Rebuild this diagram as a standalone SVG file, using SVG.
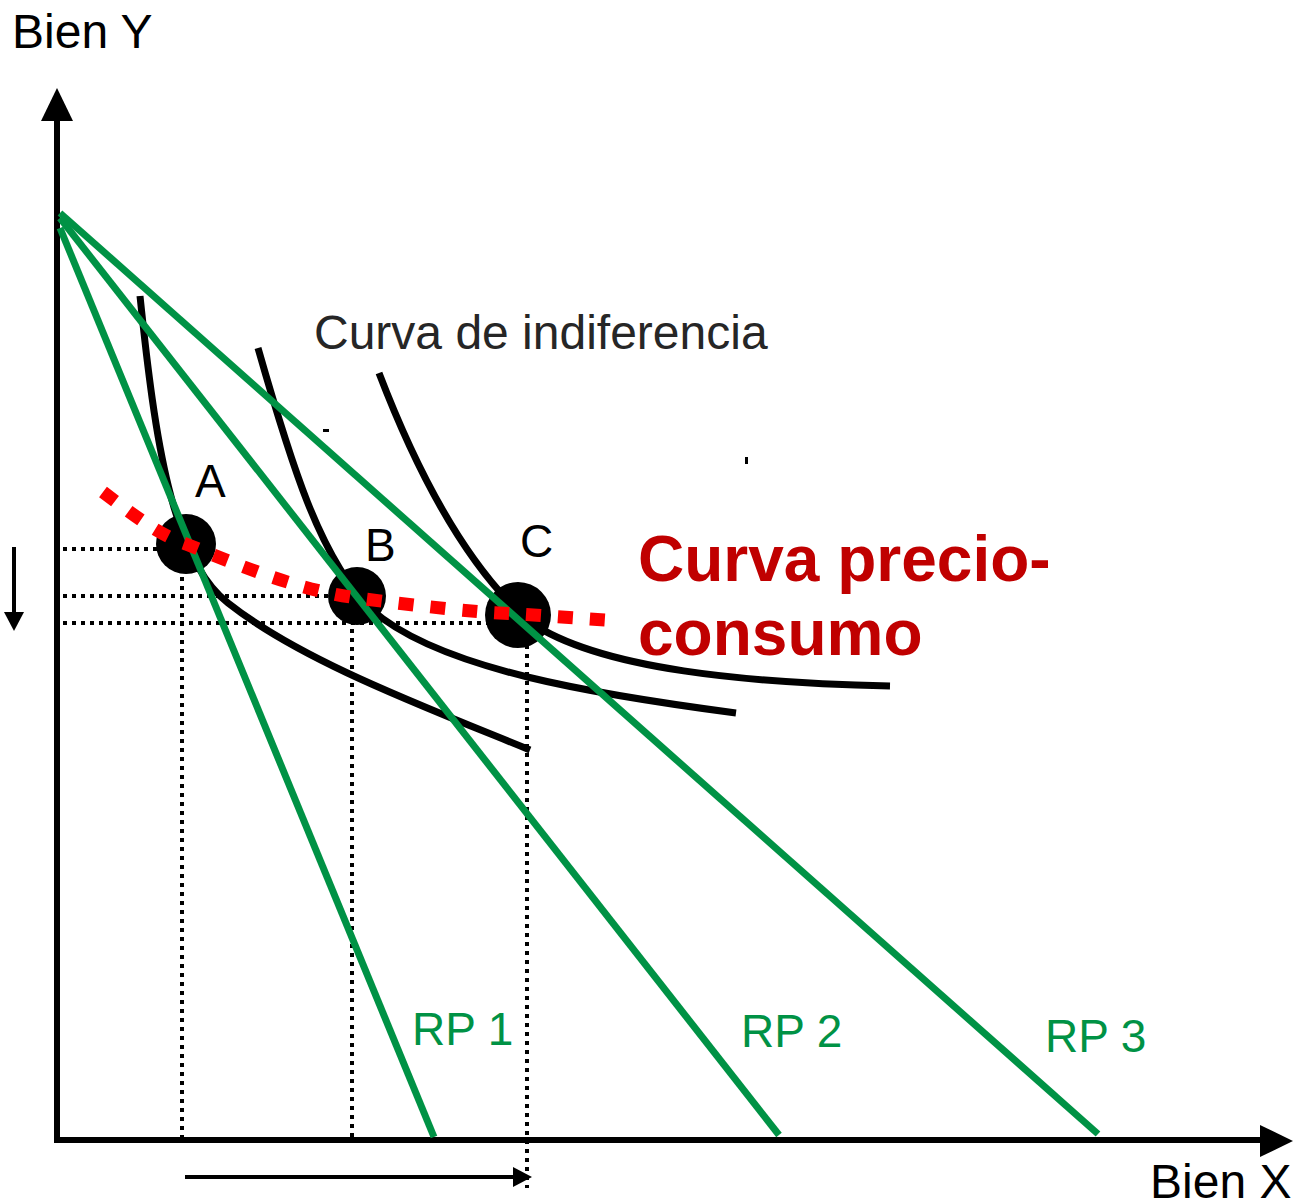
<svg xmlns="http://www.w3.org/2000/svg" width="1309" height="1202" viewBox="0 0 1309 1202">
<style>
.axis{stroke:#000;stroke-width:6;fill:none}
.dot{stroke:#000;stroke-width:4;stroke-dasharray:4 5;fill:none}
.ic{stroke:#000;stroke-width:7;fill:none;stroke-linecap:butt}
.rp{stroke:#009245;stroke-width:7;fill:none}
.pcc{stroke:#ff0000;stroke-width:13;stroke-dasharray:15 17;fill:none}
.lbl{font-family:"Liberation Sans",Arial,sans-serif;font-size:46px;fill:#000}
.ax{font-family:"Liberation Sans",Arial,sans-serif;font-size:48px;fill:#000}
.rpl{font-family:"Liberation Sans",Arial,sans-serif;font-size:46px;fill:#009245}
.big{font-family:"Liberation Sans",Arial,sans-serif;font-size:64px;font-weight:bold;fill:#c00000}
</style>
<rect width="1309" height="1202" fill="#fff"/>
<g id="axes">
<line class="axis" x1="57" y1="1142" x2="57" y2="115"/>
<polygon points="57,88 41,121 73,121" fill="#000"/>
<line class="axis" x1="54" y1="1140" x2="1265" y2="1140"/>
<polygon points="1293,1141 1260,1125 1260,1157" fill="#000"/>
<text class="ax" x="12" y="48">Bien Y</text>
<text class="ax" x="1150" y="1198">Bien X</text>
</g>
<g id="connectors">
<line class="dot" x1="63" y1="549" x2="160" y2="549"/>
<line class="dot" x1="63" y1="596" x2="355" y2="596"/>
<line class="dot" x1="63" y1="623" x2="520" y2="623"/>
<line class="dot" x1="182" y1="577" x2="182" y2="1138"/>
<line class="dot" x1="352" y1="620" x2="352" y2="1138"/>
<line class="dot" x1="527" y1="645" x2="527" y2="1188"/>
<line x1="14" y1="547" x2="14" y2="615" stroke="#000" stroke-width="4"/>
<polygon points="14,631 4,612 24,612" fill="#000"/>
<line x1="185" y1="1177" x2="516" y2="1177" stroke="#000" stroke-width="4"/>
<polygon points="532,1177 513,1167 513,1187" fill="#000"/>
</g>
<g id="indiferencia">
<path class="ic" d="M140,296 C155,440 172,560 228,603 C300,660 420,705 530,750"/>
<path class="ic" d="M258,348 C290,460 320,560 372,610 C440,670 600,695 736,713"/>
<path class="ic" d="M379,373 C420,480 470,570 530,622 C600,670 750,683 890,686"/>
<text x="314" y="349" font-family="Liberation Sans, Arial, sans-serif" font-size="48" fill="#262626">Curva de indiferencia</text>
<rect x="323" y="429" width="6" height="3" fill="#000"/>
<rect x="745" y="457" width="3" height="7" fill="#000"/>
</g>
<g id="puntoA">
<circle cx="186" cy="544" r="30" fill="#000"/>
<text class="lbl" x="195" y="497">A</text>
</g>
<g id="puntoB">
<circle cx="357" cy="596" r="29" fill="#000"/>
<text class="lbl" x="365" y="561">B</text>
</g>
<g id="puntoC">
<circle cx="518" cy="615" r="33" fill="#000"/>
<text class="lbl" x="520" y="557">C</text>
</g>
<g id="rectas">
<line class="rp" x1="60" y1="228" x2="434" y2="1137"/>
<line class="rp" x1="60" y1="218" x2="779" y2="1135"/>
<line class="rp" x1="60" y1="213" x2="1098" y2="1134"/>
<text class="rpl" x="412" y="1045">RP 1</text>
<text class="rpl" x="741" y="1047">RP 2</text>
<text class="rpl" x="1045" y="1052">RP 3</text>
</g>
<g id="precio-consumo">
<path class="pcc" d="M103,492 C140,520 160,535 186,544 C250,570 300,590 357,598 C420,606 470,612 518,614 L606,620"/>
<text class="big" x="638" y="581">Curva precio-</text>
<text class="big" x="638" y="655">consumo</text>
</g>
</svg>
